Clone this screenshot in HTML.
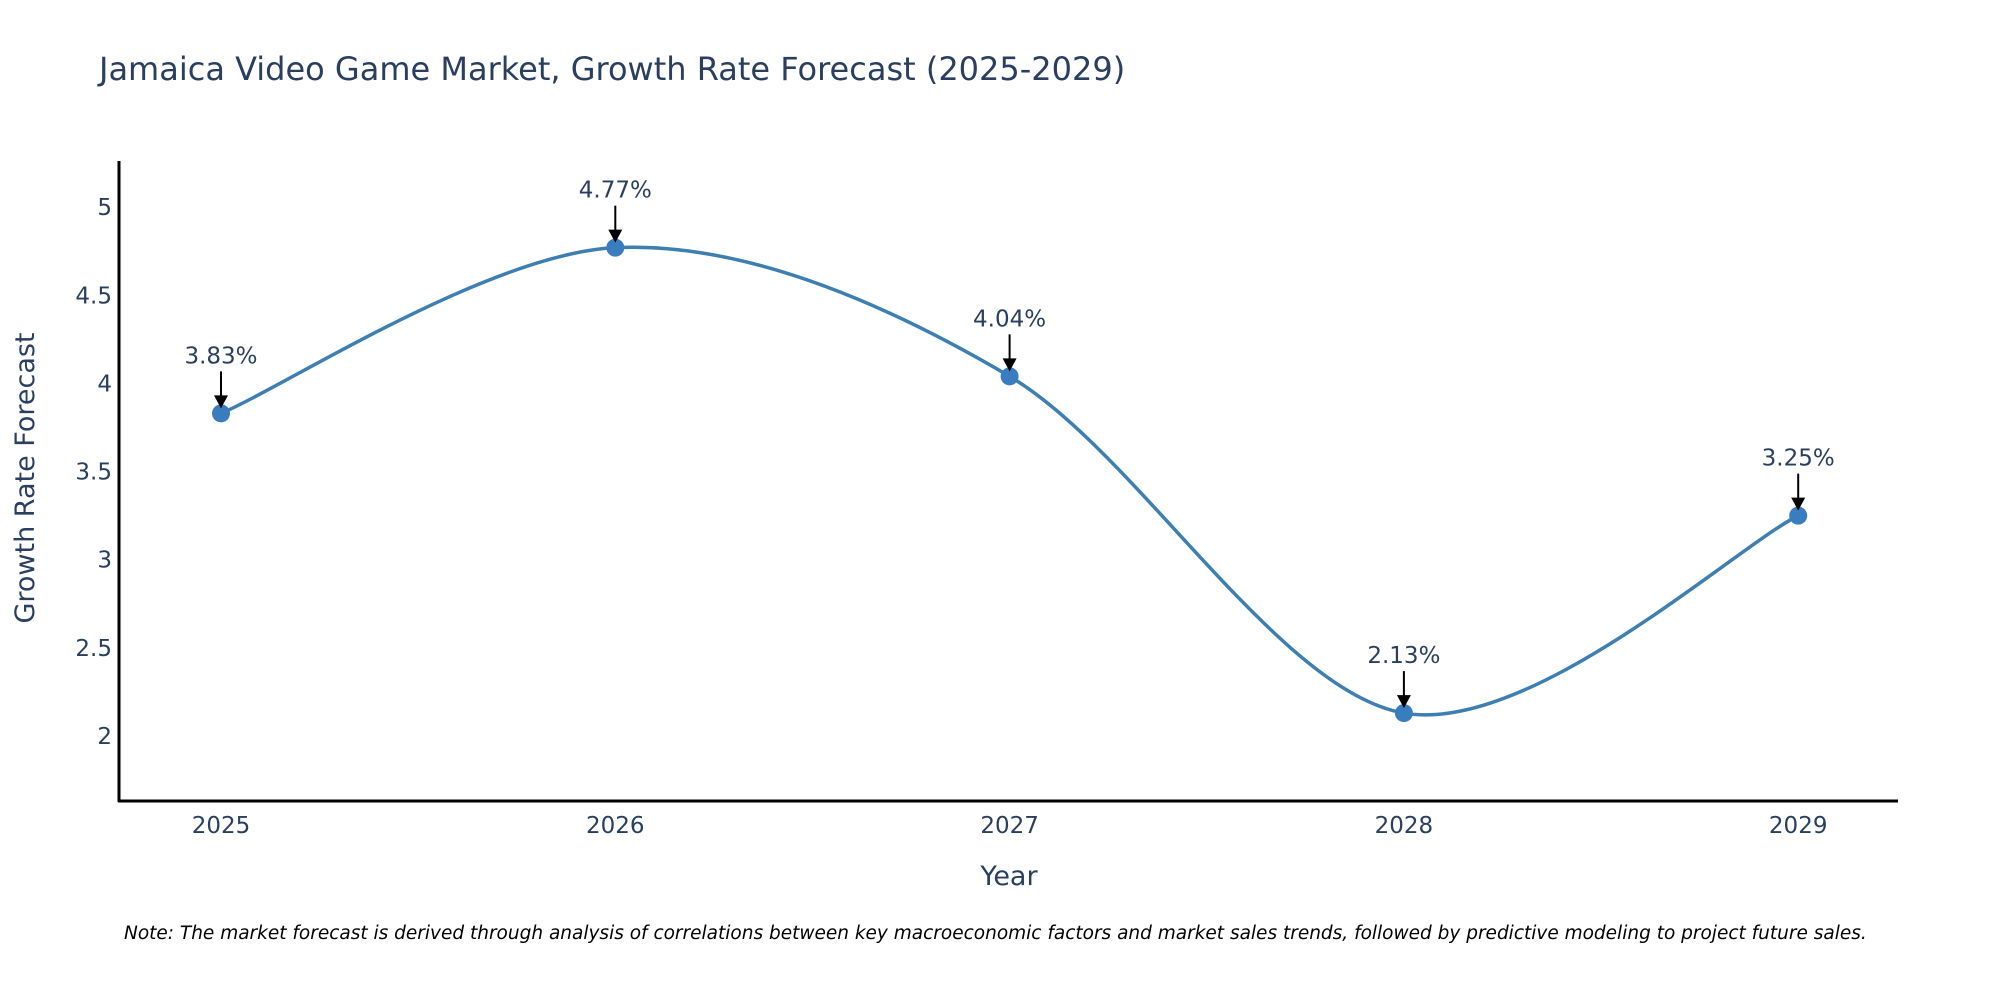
<!DOCTYPE html>
<html><head><meta charset="utf-8"><style>
body{margin:0;background:#fff;}
svg{font-family:"DejaVu Sans","Liberation Sans",sans-serif;}
</style></head><body>
<svg id="chart" width="2000" height="1000" viewBox="0 0 2000 1000" xmlns="http://www.w3.org/2000/svg">
<text x="99" y="80" font-size="32" fill="#2a3f5f">Jamaica Video Game Market, Growth Rate Forecast (2025-2029)</text>
<g id="yticks"></g>
<g id="xticks"></g>
<path id="line" fill="none" stroke="#3d7fb0" stroke-width="3.5"/>
<g id="points"></g>
<g id="annots"></g>
<line x1="119" y1="161" x2="119" y2="802" stroke="#000" stroke-width="3"/>
<line x1="118" y1="801" x2="1898" y2="801" stroke="#000" stroke-width="3"/>
<text transform="translate(34,478) rotate(-90)" text-anchor="middle" font-size="27" fill="#2a3f5f">Growth Rate Forecast</text>
<text x="1009" y="885" text-anchor="middle" font-size="27" fill="#2a3f5f">Year</text>
<text x="124" y="939" font-size="18.5" font-style="italic" fill="#000">Note: The market forecast is derived through analysis of correlations between key macroeconomic factors and market sales trends, followed by predictive modeling to project future sales.</text>
</svg>
<script>
const years = ["2025","2026","2027","2028","2029"];
const values = [3.83, 4.77, 4.04, 2.13, 3.25];
const labels = ["3.83%","4.77%","4.04%","2.13%","3.25%"];
const yTicks = [2, 2.5, 3, 3.5, 4, 4.5, 5];
const yTickLabels = ["2","2.5","3","3.5","4","4.5","5"];

const NS = "http://www.w3.org/2000/svg";
function xs(i){ return 221 + i * 394.3; }
function ys(v){ return 736 - (v - 2) * 176.3; }
function mk(tag, attrs, parent){ const e = document.createElementNS(NS, tag); for (const k in attrs) e.setAttribute(k, attrs[k]); parent.appendChild(e); return e; }

const yt = document.getElementById('yticks');
yTicks.forEach((t, i) => {
  const e = mk('text', {x: 112, y: ys(t) + 8, 'text-anchor': 'end', 'font-size': 23, fill: '#2a3f5f'}, yt);
  
  
  e.textContent = yTickLabels[i];
});
const xt = document.getElementById('xticks');
years.forEach((y, i) => {
  const e = mk('text', {x: xs(i), y: 833, 'text-anchor': 'middle', 'font-size': 23, fill: '#2a3f5f'}, xt);
  
  
  e.textContent = y;
});

const pts = values.map((v, i) => [xs(i), ys(v)]);
let d = `M${pts[0][0]},${pts[0][1]}`;
const s = 0.16;
for (let i = 0; i < pts.length - 1; i++) {
  const p0 = pts[Math.max(0, i - 1)], p1 = pts[i], p2 = pts[i + 1], p3 = pts[Math.min(pts.length - 1, i + 2)];
  const c1 = [p1[0] + (p2[0] - p0[0]) * s, p1[1] + (p2[1] - p0[1]) * s];
  const c2 = [p2[0] - (p3[0] - p1[0]) * s, p2[1] - (p3[1] - p1[1]) * s];
  d += ` C${c1[0]},${c1[1]} ${c2[0]},${c2[1]} ${p2[0]},${p2[1]}`;
}
document.getElementById('line').setAttribute('d', d);

const pg = document.getElementById('points');
const ag = document.getElementById('annots');
pts.forEach((p, i) => {
  const c = mk('circle', {cx: p[0], cy: p[1], r: 9, fill: '#3a7dbf'}, pg);
  
  
  const l = mk('line', {x1: p[0], y1: p[1] - 42, x2: p[0], y2: p[1] - 16, stroke: '#000', 'stroke-width': 2}, ag);
  
  
  const a = mk('polygon', {points: `${p[0]-7},${p[1]-18} ${p[0]+7},${p[1]-18} ${p[0]},${p[1]-5}`, fill: '#000'}, ag);
  
  
  const t = mk('text', {x: p[0], y: p[1] - 50, 'text-anchor': 'middle', 'font-size': 23, fill: '#2a3f5f'}, ag);
  
  
  t.textContent = labels[i];
});
</script>
</body></html>
